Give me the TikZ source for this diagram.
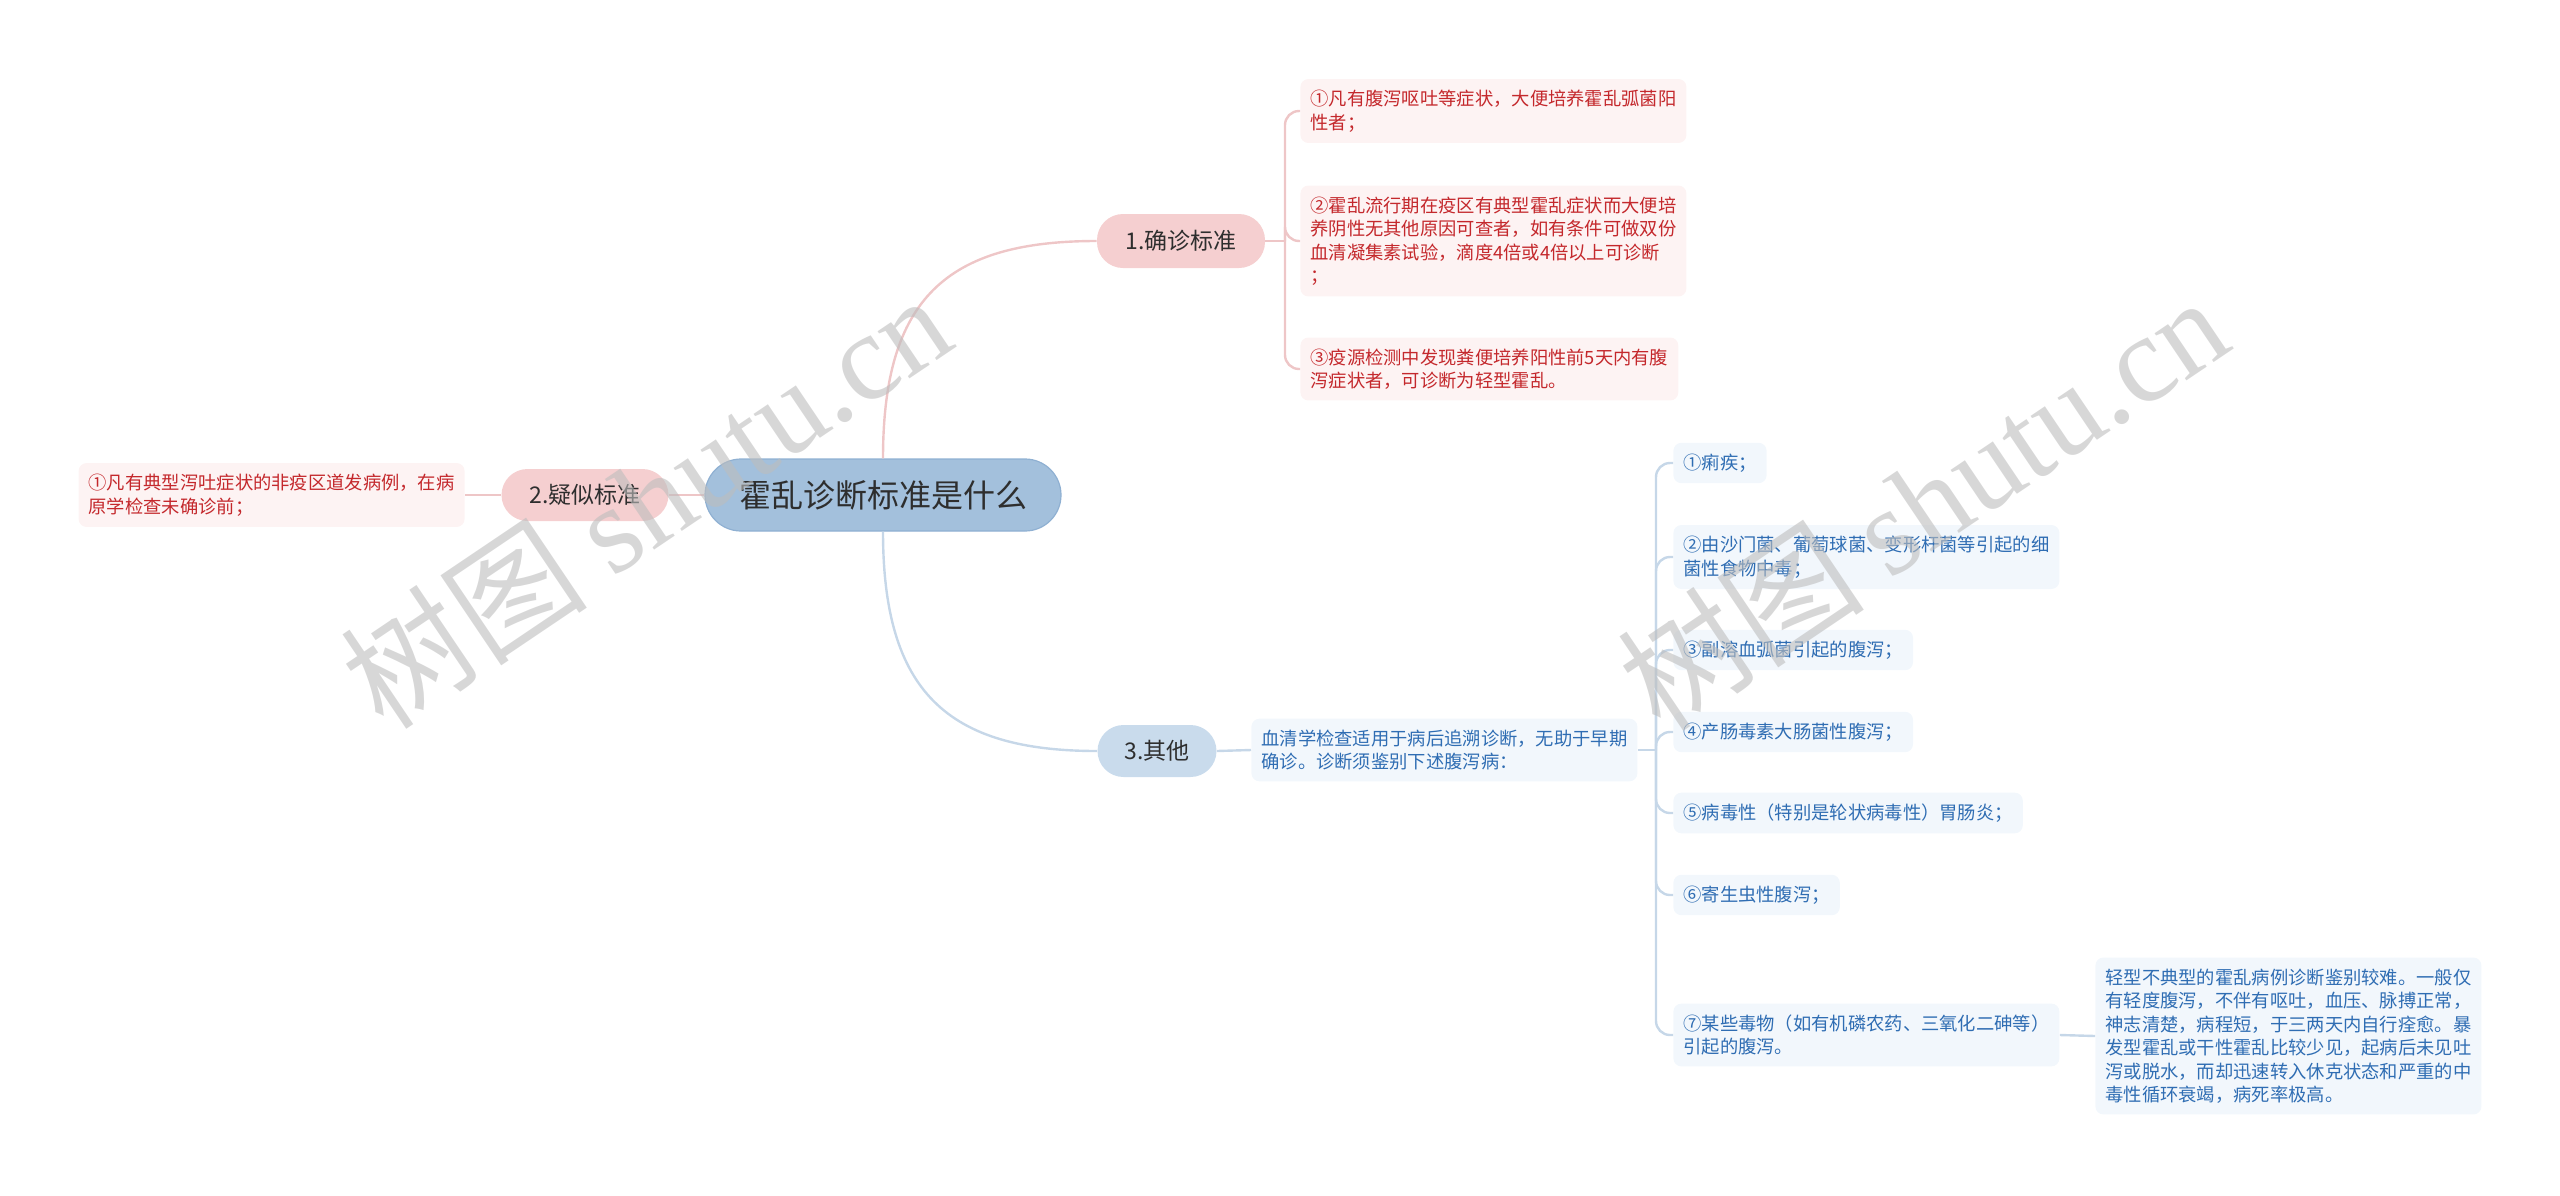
\documentclass[tikz,border=0pt]{standalone}
\usepackage{fontspec}
\setmainfont{Noto Sans CJK SC}
\newfontfamily\wmlatin{Liberation Serif}
\usetikzlibrary{positioning}
\definecolor{rootfill}{HTML}{A3C0DC}
\definecolor{rootline}{HTML}{8FB0D2}
\definecolor{ink}{HTML}{2E2E2E}
\definecolor{rose}{HTML}{F5CFD0}
\definecolor{roseleaf}{HTML}{FDF3F3}
\definecolor{rosetext}{HTML}{C4282C}
\definecolor{roseline}{HTML}{EEC6C7}
\definecolor{sky}{HTML}{C9DBEC}
\definecolor{skyleaf}{HTML}{F2F7FC}
\definecolor{skytext}{HTML}{2F6DB3}
\definecolor{skyline}{HTML}{C6D7E8}
\definecolor{wmgray}{HTML}{BDBDBD}

\begin{document}
\begin{tikzpicture}[x=0.5pt,y=-0.5pt,
  topic/.style={rounded corners=13pt,minimum height=26pt,inner sep=0pt,text=ink,font=\fontsize{11.5}{13}\selectfont},
  leaf/.style={rounded corners=4pt,inner xsep=5pt,inner ysep=5.5pt,align=left,font=\fontsize{9.15}{11.75}\selectfont},
  link/.style={line width=1.2pt},
  wm/.style={text=wmgray,opacity=0.6,rotate=34,font=\fontsize{62}{62}\selectfont}]
\useasboundingbox (0,0) rectangle (2560,1195);

\node[fill=rootfill,draw=rootline,line width=0.6pt,rounded corners=18pt,minimum width=178pt,minimum height=36pt,inner sep=0pt,text=ink,font=\fontsize{16}{18}\selectfont] (root) at (883,495) {霍乱诊断标准是什么};
\node[topic,fill=rose,minimum width=84pt,minimum height=27pt] (n1) at (1181,241) {1.确诊标准};
\node[topic,fill=rose,minimum width=83.5pt] (n2) at (585,495) {2.疑似标准};
\node[topic,fill=sky,minimum width=59.5pt] (n3) at (1157,751) {3.其他};

\foreach \i/\y/\t in {1/111/{①凡有腹泻呕吐等症状，大便培养霍乱弧菌阳\\性者；},
  2/241/{②霍乱流行期在疫区有典型霍乱症状而大便培\\养阴性无其他原因可查者，如有条件可做双份\\血清凝集素试验，滴度4倍或4倍以上可诊断\\；},
  3/369/{③疫源检测中发现粪便培养阳性前5天内有腹\\泻症状者，可诊断为轻型霍乱。}}
  \node[leaf,fill=roseleaf,text=rosetext,anchor=west] (p\i) at (1300,\y) {\t};
\node[leaf,fill=roseleaf,text=rosetext,anchor=east] (s1) at (465,495) {①凡有典型泻吐症状的非疫区道发病例，在病\\原学检查未确诊前；};

\node[leaf,fill=skyleaf,text=skytext,anchor=west] (b0) at (1251,750) {血清学检查适用于病后追溯诊断，无助于早期\\确诊。诊断须鉴别下述腹泻病：};
\foreach \i/\y/\t in {1/463/{①痢疾；},
  2/557/{②由沙门菌、葡萄球菌、变形杆菌等引起的细\\菌性食物中毒；},
  3/650/{③副溶血弧菌引起的腹泻；},
  4/732/{④产肠毒素大肠菌性腹泻；},
  5/813/{⑤病毒性（特别是轮状病毒性）胃肠炎；},
  6/895/{⑥寄生虫性腹泻；},
  7/1035/{⑦某些毒物（如有机磷农药、三氧化二砷等）\\引起的腹泻。}}
  \node[leaf,fill=skyleaf,text=skytext,anchor=west] (b\i) at (1673,\y) {\t};
\node[leaf,fill=skyleaf,text=skytext,anchor=west] (far) at (2095,1036) {轻型不典型的霍乱病例诊断鉴别较难。一般仅\\有轻度腹泻，不伴有呕吐，血压、脉搏正常，\\神志清楚，病程短，于三两天内自行痊愈。暴\\发型霍乱或干性霍乱比较少见，起病后未见吐\\泻或脱水，而却迅速转入休克状态和严重的中\\毒性循环衰竭，病死率极高。};

\draw[link,roseline] (root.north) .. controls +(0,-160) and +(-150,0) .. (n1.west);
\draw[link,roseline] (root.west) -- (n2.east);
\draw[link,roseline] (n2.west) -- (s1.east);
\coordinate (pj) at (1285,241);
\draw[link,roseline] (n1.east) -- (pj);
\foreach \i in {1,2,3} \draw[link,roseline,rounded corners=7pt] (pj) |- (p\i.west);

\draw[link,skyline] (root.south) .. controls +(0,160) and +(-150,0) .. (n3.west);
\draw[link,skyline] (n3.east) -- (b0.west);
\coordinate (bj) at (1656,750);
\draw[link,skyline] (b0.east) -- (bj);
\foreach \i in {1,...,7} \draw[link,skyline,rounded corners=7pt] (bj) |- (b\i.west);
\draw[link,skyline] (b7.east) -- (far.west);

\node[wm] (wm1) at (645,500) {树图 {\wmlatin shutu.cn}};
\node[wm] (wm2) at (1922,502) {树图 {\wmlatin shutu.cn}};
\end{tikzpicture}
\end{document}
